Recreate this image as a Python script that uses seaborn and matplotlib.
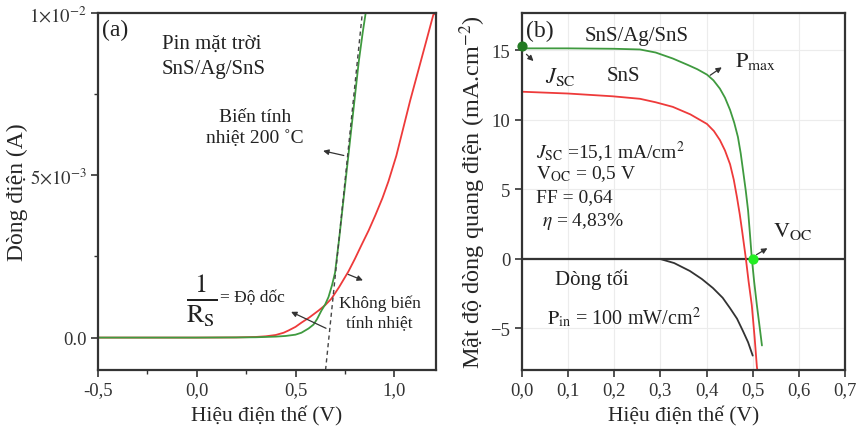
import numpy as np
import pandas as pd
import matplotlib
matplotlib.use("Agg")
import matplotlib.pyplot as plt
import seaborn as sns

# (a) I-V curves, current in mA (shown as A on the axis)
v_a_green = [-0.5, -0.3, 0.0, 0.2, 0.3, 0.4, 0.45, 0.5, 0.53, 0.566, 0.591, 0.61, 0.631,
             0.65, 0.667, 0.685, 0.70, 0.72, 0.74, 0.76, 0.78, 0.80, 0.82, 0.84, 0.855,
             1.0, 1.21]
i_a_green = [0.0, 0.0, 0.0, 0.005, 0.01, 0.03, 0.05, 0.09, 0.15, 0.28, 0.40, 0.58, 0.83,
             1.02, 1.25, 1.62, 2.0, 3.0, 4.1, 5.2, 6.3, 7.4, 8.5, 9.4, 10.0,
             10.0, 10.0]
v_a_red = [-0.5, -0.3, 0.0, 0.2, 0.3, 0.35, 0.4, 0.44, 0.465, 0.5, 0.53, 0.57, 0.616,
           0.65, 0.682, 0.72, 0.768, 0.80, 0.833, 0.87, 0.904, 0.94, 0.970, 1.01,
           1.045, 1.08, 1.12, 1.16, 1.197, 1.21]
i_a_red = [0.0, 0.0, 0.0, 0.005, 0.02, 0.04, 0.08, 0.15, 0.22, 0.33, 0.46, 0.62, 0.83,
           1.0, 1.20, 1.55, 2.04, 2.42, 2.84, 3.3, 3.77, 4.3, 4.81, 5.6,
           6.45, 7.3, 8.2, 9.1, 9.94, 10.0]
v_tangent = [0.652, 0.838]
i_tangent = [-1.0, 10.0]

# (b) J-V curves, mA/cm2
v_b_green = [0.0, 0.1, 0.2, 0.256, 0.29, 0.327, 0.36, 0.38, 0.401, 0.415, 0.429, 0.44,
             0.451, 0.46, 0.468, 0.474, 0.479, 0.485, 0.490, 0.494, 0.498, 0.503,
             0.509, 0.515, 0.520]
j_b_green = [15.15, 15.15, 15.12, 15.07, 14.85, 14.42, 13.95, 13.65, 13.26, 12.85, 12.25,
             11.6, 10.72, 9.8, 8.77, 7.6, 6.38, 4.9, 3.48, 1.8, 0.07, -1.6,
             -3.33, -4.9, -6.23]
v_b_red = [0.0, 0.1, 0.197, 0.256, 0.29, 0.327, 0.365, 0.401, 0.416, 0.429, 0.44, 0.451,
           0.459, 0.466, 0.472, 0.477, 0.485, 0.491, 0.498, 0.504, 0.509, 0.511]
j_b_red = [12.03, 11.9, 11.7, 11.52, 11.27, 10.94, 10.4, 9.71, 9.2, 8.55, 7.8, 6.81,
           5.7, 4.42, 3.2, 2.03, 0.07, -1.6, -3.33, -5.6, -7.75, -8.3]
v_b_dark = [0.0, 0.1, 0.2, 0.299, 0.33, 0.364, 0.39, 0.414, 0.435, 0.451, 0.466,
            0.479, 0.490, 0.500]
j_b_dark = [0.0, 0.0, 0.0, 0.0, -0.3, -0.87, -1.45, -2.1, -2.8, -3.55, -4.3,
            -5.2, -6.0, -6.96]

xticks_a = [-0.5, 0.0, 0.5, 1.0]
xticklabels_a = ['-0,5', '0,0', '0,5', '1,0']
yticks_a = [0.0, 5.0, 10.0]
yticklabels_a = ['0.0', r'$5{\times}10^{-3}$', r'$1{\times}10^{-2}$']
xticks_b = [0.0, 0.1, 0.2, 0.3, 0.4, 0.5, 0.6, 0.7]
xticklabels_b = ['0,0', '0,1', '0,2', '0,3', '0,4', '0,5', '0,6', '0,7']
yticks_b = [-5, 0, 5, 10, 15]

GREEN = '#3f9a3f'
RED = '#ee3a3a'
DARK = '#333333'

sns.set_style('ticks')
plt.rcParams['font.family'] = ['Liberation Serif', 'DejaVu Serif']
plt.rcParams['mathtext.fontset'] = 'stix'
plt.rcParams['axes.edgecolor'] = DARK
plt.rcParams['axes.linewidth'] = 1.6
plt.rcParams['xtick.color'] = DARK
plt.rcParams['ytick.color'] = DARK
plt.rcParams['text.color'] = '#222222'

fig = plt.figure(figsize=(8.58, 4.35), dpi=100)
ax1 = fig.add_axes([0.114, 0.147, 0.394, 0.821])
ax2 = fig.add_axes([0.608, 0.147, 0.377, 0.821])

# ---- panel (a)
sns.lineplot(x=v_a_red, y=i_a_red, ax=ax1, color=RED, lw=1.3, sort=False, estimator=None)
sns.lineplot(x=v_a_green, y=i_a_green, ax=ax1, color=GREEN, lw=1.3, sort=False, estimator=None)
ax1.plot(v_tangent, i_tangent, ls=(0, (3, 2.5)), color='#444444', lw=1.0)
ax1.set_xlim(-0.5, 1.21)
ax1.set_ylim(-1.0, 10.0)
ax1.set_xticks(xticks_a)
ax1.set_xticklabels(xticklabels_a)
ax1.set_xticks([-0.25, 0.25, 0.75], minor=True)
ax1.set_yticks(yticks_a)
ax1.set_yticklabels(yticklabels_a)
ax1.set_yticks([2.5, 7.5], minor=True)
ax1.set_xlabel('Hiệu điện thế (V)', fontsize=15.5, labelpad=5)
ax1.set_ylabel('Dòng điện (A)', fontsize=17, labelpad=1)

ax1.text(0.012, 0.955, '(a)', transform=ax1.transAxes, fontsize=17, va='center')
ax1.text(0.189, 0.88, 'Pin mặt trời\nSnS/Ag/SnS', transform=ax1.transAxes,
         fontsize=15, va='center', linespacing=1.45)
ax1.text(0.464, 0.681, 'Biến tính\nnhiệt 200 ˚C', transform=ax1.transAxes,
         fontsize=14, va='center', ha='center', linespacing=1.35)
ax1.text(0.834, 0.162, 'Không biến\ntính nhiệt', transform=ax1.transAxes,
         fontsize=12.5, va='center', ha='center', linespacing=1.25)
ax1.text(0.308, 0.196, r'$\frac{1}{\mathrm{R_S}}$', transform=ax1.transAxes,
         fontsize=27, va='center', ha='center')
ax1.text(0.36, 0.204, '= Độ dốc', transform=ax1.transAxes, fontsize=12.5, va='center')

arrow = dict(arrowstyle='-|>', color='#333333', lw=0.9, mutation_scale=8)
ax1.annotate('', xy=(0.626, 5.77), xytext=(0.758, 5.59), arrowprops=arrow)
ax1.annotate('', xy=(0.465, 0.83), xytext=(0.667, 0.25), arrowprops=arrow)
ax1.annotate('', xy=(0.854, 1.73), xytext=(0.753, 1.98), arrowprops=arrow)

# ---- panel (b)
ax2.grid(True, color='#ececec', lw=0.8)
ax2.axhline(0, color=DARK, lw=1.6, zorder=1)
sns.lineplot(x=v_b_dark, y=j_b_dark, ax=ax2, color=DARK, lw=1.3, sort=False, estimator=None)
sns.lineplot(x=v_b_red, y=j_b_red, ax=ax2, color=RED, lw=1.3, sort=False, estimator=None)
sns.lineplot(x=v_b_green, y=j_b_green, ax=ax2, color=GREEN, lw=1.3, sort=False, estimator=None)
ax2.scatter([0.0], [15.3], color='#237a23', s=40, zorder=5, clip_on=False)
ax2.scatter([0.5], [0.0], color='#22ee22', s=40, zorder=5)
ax2.set_xlim(0.0, 0.7)
ax2.set_ylim(-8.0, 17.7)
ax2.set_xticks(xticks_b)
ax2.set_xticklabels(xticklabels_b)
ax2.set_yticks(yticks_b)
ax2.set_xlabel('Hiệu điện thế (V)', fontsize=15.5, labelpad=5)
ax2.set_ylabel('Mật độ dòng quang điện (mA.cm$^{-2}$)', fontsize=17.5, labelpad=2)

ax2.text(0.012, 0.952, '(b)', transform=ax2.transAxes, fontsize=17, va='center')
ax2.text(0.195, 0.938, 'SnS/Ag/SnS', transform=ax2.transAxes, fontsize=15, va='center')
ax2.text(0.071, 0.823, r'$J_{\mathrm{SC}}$', transform=ax2.transAxes, fontsize=16, va='center')
ax2.text(0.263, 0.826, 'SnS', transform=ax2.transAxes, fontsize=15, va='center')
ax2.text(0.659, 0.868, r'$\mathrm{P_{max}}$', transform=ax2.transAxes, fontsize=16, va='center')
ax2.text(0.043, 0.615, r'$J_{\mathrm{SC}}$ =15,1 mA/cm$^2$', transform=ax2.transAxes,
         fontsize=14, va='center')
ax2.text(0.043, 0.551, r'$\mathrm{V_{OC}}$ = 0,5 V', transform=ax2.transAxes,
         fontsize=14, va='center')
ax2.text(0.043, 0.486, 'FF = 0,64', transform=ax2.transAxes, fontsize=14, va='center')
ax2.text(0.062, 0.419, r'$\eta$ = 4,83%', transform=ax2.transAxes, fontsize=14, va='center')
ax2.text(0.777, 0.390, r'$\mathrm{V_{OC}}$', transform=ax2.transAxes, fontsize=16, va='center')
ax2.text(0.102, 0.256, 'Dòng tối', transform=ax2.transAxes, fontsize=15, va='center')
ax2.text(0.077, 0.149, r'$\mathrm{P_{in}}$ = 100 mW/cm$^2$', transform=ax2.transAxes,
         fontsize=14.5, va='center')

ax2.annotate('', xy=(0.030, 14.1), xytext=(0.006, 14.86), arrowprops=arrow)
ax2.annotate('', xy=(0.438, 13.9), xytext=(0.403, 13.1), arrowprops=arrow)
ax2.annotate('', xy=(0.537, 0.87), xytext=(0.503, 0.2), arrowprops=arrow)

for ax in (ax1, ax2):
    ax.tick_params(axis='both', which='major', direction='out', length=5, width=1.2,
                   labelsize=13.5, pad=3)
    ax.tick_params(axis='both', which='minor', direction='out', length=3, width=1.0)
    for s in ax.spines.values():
        s.set_visible(True)

fig.savefig('out.png', dpi=100)
